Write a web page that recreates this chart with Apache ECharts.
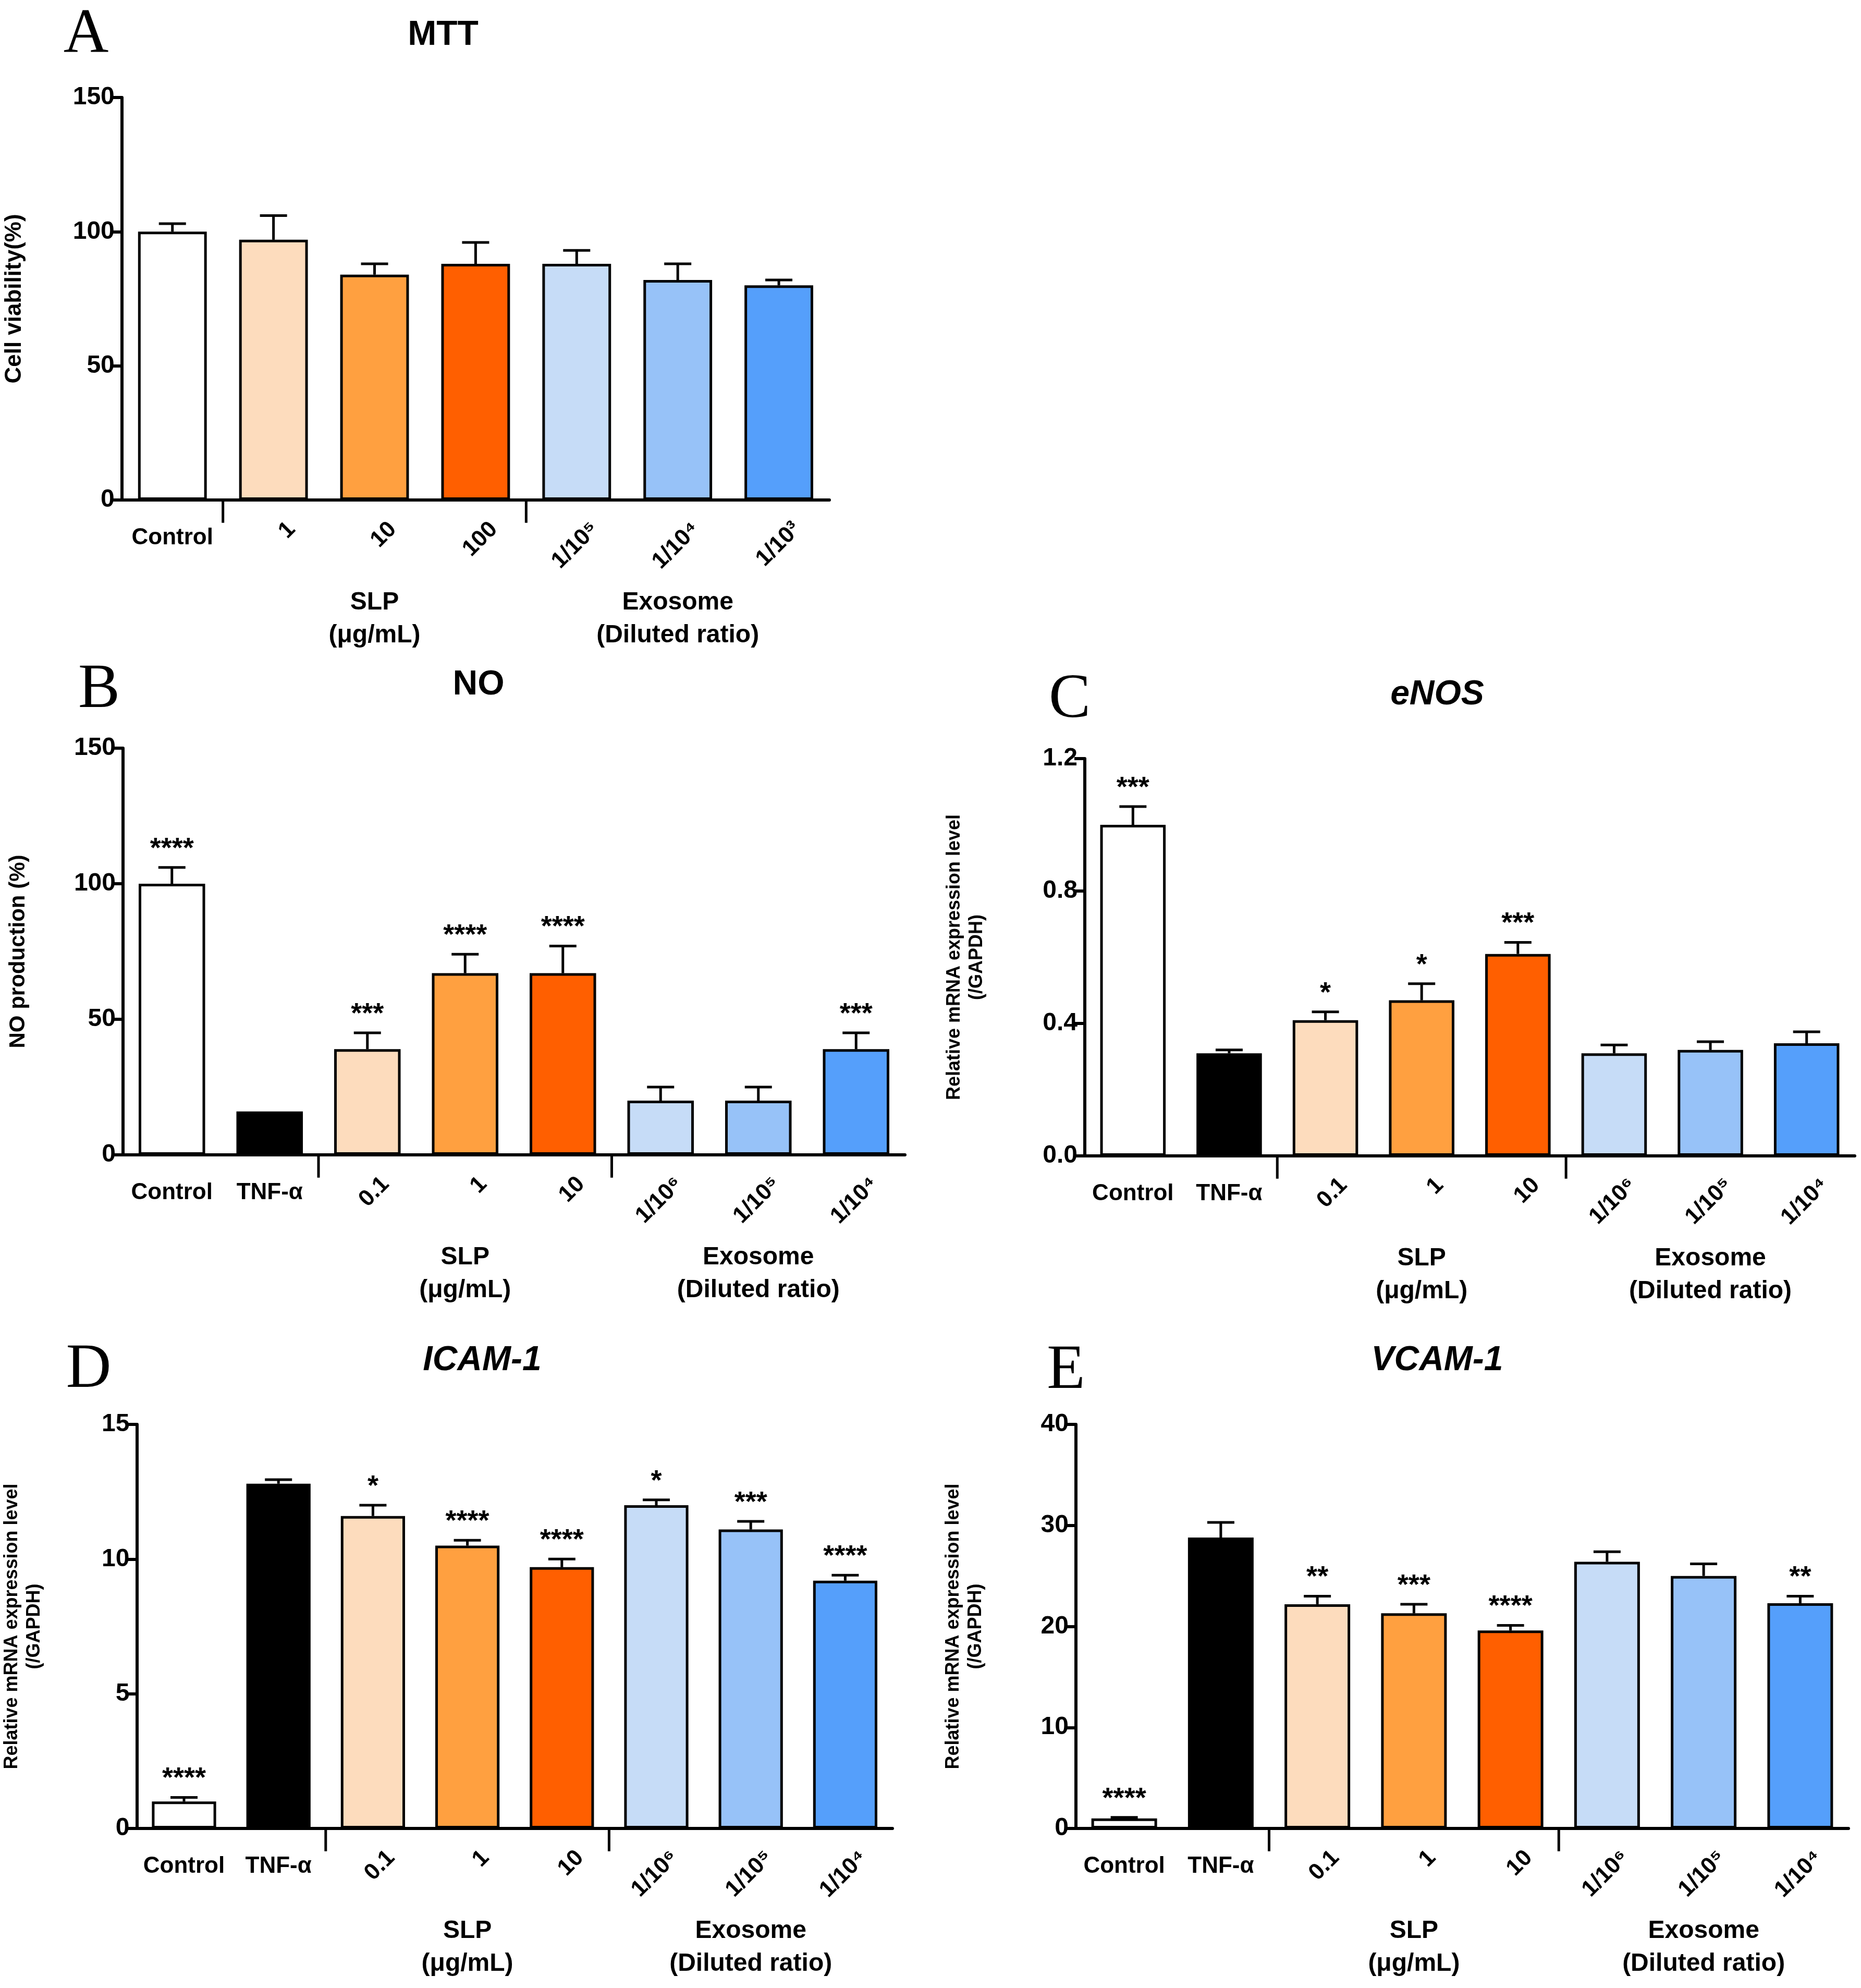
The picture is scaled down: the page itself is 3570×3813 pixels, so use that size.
<!DOCTYPE html>
<html><head><meta charset="utf-8">
<script src="https://cdn.jsdelivr.net/npm/echarts@6/dist/echarts.min.js"></script>
<style>html,body{margin:0;padding:0;background:#fff}#c{width:3570px;height:3813px}</style>
</head><body><div id="c"></div>
<script>
// ---- data ----
const catsA = ['Control','1','10','100','1/10⁵','1/10⁴','1/10³'];
const valsA = [100, 97, 84, 88, 88, 82, 80];
const errA  = [3, 9, 4, 8, 5, 6, 2];
const starA = ['','','','','','',''];

const catsB = ['Control','TNF-α','0.1','1','10','1/10⁶','1/10⁵','1/10⁴'];
const valsB = [100, 16, 39, 67, 67, 20, 20, 39];
const errB  = [6, 0, 6, 7, 10, 5, 5, 6];
const starB = ['****','','***','****','****','','','***'];

const catsC = catsB;
const valsC = [1.0, 0.31, 0.41, 0.47, 0.61, 0.31, 0.32, 0.34];
const errC  = [0.055, 0.01, 0.025, 0.05, 0.035, 0.025, 0.025, 0.035];
const starC = ['***','','*','*','***','','',''];

const catsD = catsB;
const valsD = [1.0, 12.8, 11.6, 10.5, 9.7, 12.0, 11.1, 9.2];
const errD  = [0.15, 0.15, 0.4, 0.2, 0.3, 0.2, 0.3, 0.2];
const starD = ['****','','*','****','****','*','***','****'];

const catsE = catsB;
const valsE = [1.0, 28.8, 22.2, 21.3, 19.6, 26.4, 25.0, 22.3];
const errE  = [0.1, 1.5, 0.8, 0.9, 0.5, 1.0, 1.2, 0.7];
const starE = ['****','','**','***','****','','','**'];

const colors7 = ['#ffffff','#fddcbd','#ffa040','#ff5f00','#c6dcf7','#97c2f8','#559ffb'];
const colors8 = ['#ffffff','#000000','#fddcbd','#ffa040','#ff5f00','#c6dcf7','#97c2f8','#559ffb'];

const S = 3570/1470;
const FONT = 'Liberation Sans';
const panels = [
  {cats:catsA, vals:valsA, err:errA, star:starA, colors:colors7, grid:{left:233,top:187,width:1358,height:772}, max:150, interval:50, dec:0, name:'Cell viability(%)', nameGap:180, nameSize:44, groups:[[1,2,3],[4,5,6]], title:'MTT', titleX:850, titleY:68, italic:false, letter:'A', lx:165, ly:68},
  {cats:catsB, vals:valsB, err:errB, star:starB, colors:colors8, grid:{left:236,top:1435,width:1500,height:780}, max:150, interval:50, dec:0, name:'NO production (%)', nameGap:175, nameSize:42, groups:[[2,3,4],[5,6,7]], title:'NO', titleX:918, titleY:1314, italic:false, letter:'B', lx:190, ly:1324},
  {cats:catsC, vals:valsC, err:errC, star:starC, colors:colors8, grid:{left:2081,top:1455,width:1477,height:762}, max:1.2, interval:0.4, dec:1, name:'Relative mRNA expression level\n(/GAPDH)', nameGap:185, nameSize:36, groups:[[2,3,4],[5,6,7]], title:'eNOS', titleX:2757, titleY:1333, italic:true, letter:'C', lx:2052, ly:1343},
  {cats:catsD, vals:valsD, err:errD, star:starD, colors:colors8, grid:{left:231,top:2732,width:1481,height:775}, max:15, interval:5, dec:0, name:'Relative mRNA expression level\n(/GAPDH)', nameGap:175, nameSize:36, groups:[[2,3,4],[5,6,7]], title:'ICAM-1', titleX:925, titleY:2610, italic:true, letter:'D', lx:170, ly:2628},
  {cats:catsE, vals:valsE, err:errE, star:starE, colors:colors8, grid:{left:2064,top:2732,width:1482,height:775}, max:40, interval:10, dec:0, name:'Relative mRNA expression level\n(/GAPDH)', nameGap:170, nameSize:36, groups:[[2,3,4],[5,6,7]], title:'VCAM-1', titleX:2757, titleY:2610, italic:true, letter:'E', lx:2045, ly:2630}
];
const groupNames = [['SLP','(μg/mL)'],['Exosome','(Diluted ratio)']];

const grid=[], xAxis=[], yAxis=[], series=[], graphic=[];
panels.forEach((p,k)=>{
  grid.push(p.grid);
  xAxis.push({type:'category', gridIndex:k, data:p.cats, axisLine:{lineStyle:{color:'#000',width:6}}, axisTick:{show:false}, axisLabel:{show:false}});
  yAxis.push({type:'value', gridIndex:k, min:0, max:p.max, interval:p.interval,
    axisLine:{show:true, lineStyle:{color:'#000',width:6}}, axisTick:{show:true,length:20,lineStyle:{width:6,color:'#000'}},
    splitLine:{show:false}, axisLabel:{fontFamily:FONT,fontWeight:'bold',fontSize:48,color:'#000',margin:14, formatter:v=>v.toFixed(p.dec)},
    name:p.name, nameLocation:'middle', nameGap:p.nameGap, nameTextStyle:{fontFamily:FONT,fontWeight:'bold',fontSize:p.nameSize,color:'#000',lineHeight:p.nameSize*1.2}});
  series.push({type:'bar', xAxisIndex:k, yAxisIndex:k, barCategoryGap:'32%',
    data:p.vals.map((v,i)=>({value:v, itemStyle:{color:p.colors[i], borderColor:'#000', borderWidth:5}})), z:2});
  // error bars + stars
  series.push({type:'custom', xAxisIndex:k, yAxisIndex:k, z:3,
    data:p.vals.map((v,i)=>[i,v,p.err[i]]),
    renderItem:(params,api)=>{
      const i=api.value(0), v=api.value(1), e=api.value(2);
      const a=api.coord([i,v]), b=api.coord([i,v+e]);
      const cap=26;
      const ch=[];
      if(e>0){
        ch.push({type:'line',shape:{x1:a[0],y1:a[1],x2:b[0],y2:b[1]},style:{stroke:'#000',lineWidth:5}});
        ch.push({type:'line',shape:{x1:b[0]-cap,y1:b[1],x2:b[0]+cap,y2:b[1]},style:{stroke:'#000',lineWidth:5}});
      }
      const st=p.star[i];
      if(st) ch.push({type:'text',x:b[0],y:b[1]-8,style:{text:st,fontFamily:FONT,fontWeight:'bold',fontSize:54,fill:'#000',align:'center',verticalAlign:'bottom'}});
      return {type:'group',children:ch};
    }});
  // x labels
  series.push({type:'custom', xAxisIndex:k, yAxisIndex:k, z:3, silent:true,
    data:p.cats.map((c,i)=>[i,0]),
    renderItem:(params,api)=>{
      const i=api.value(0); const c=api.coord([i,0]); const name=p.cats[i];
      const ch=[];
      if(name==='Control'||name==='TNF-α'){
        ch.push({type:'text',x:c[0],y:c[1]+30*S,style:{text:name,fontFamily:FONT,fontWeight:'bold',fontSize:44,fill:'#000',align:'center',verticalAlign:'middle'}});
      } else {
        ch.push({type:'text',x:c[0]+8*S,y:c[1]+14*S,rotation:Math.PI/4,style:{text:name,fontFamily:FONT,fontWeight:'bold',fontSize:44,fill:'#000',align:'right',verticalAlign:'top'}});
      }
      p.groups.forEach((g,gi)=>{
        if(i===g[0]){
          const prev=api.coord([i-1,0]);
          const sx=(prev[0]+c[0])/2;
          ch.push({type:'line',shape:{x1:sx,y1:c[1],x2:sx,y2:c[1]+18*S},style:{stroke:'#000',lineWidth:5}});
        }
        if(i===g[1]){
          ch.push({type:'text',x:c[0],y:c[1]+81*S,style:{text:groupNames[gi][0],fontFamily:FONT,fontWeight:'bold',fontSize:48,fill:'#000',align:'center',verticalAlign:'middle'}});
          ch.push({type:'text',x:c[0],y:c[1]+107*S,style:{text:groupNames[gi][1],fontFamily:FONT,fontWeight:'bold',fontSize:48,fill:'#000',align:'center',verticalAlign:'middle'}});
        }
      });
      return {type:'group',children:ch};
    }});
  graphic.push({type:'text',x:p.titleX,y:p.titleY,style:{text:p.title,fontFamily:FONT,fontWeight:'bold',fontStyle:p.italic?'italic':'normal',fontSize:66,fill:'#000',align:'center',verticalAlign:'middle'}});
  graphic.push({type:'text',x:p.lx,y:p.ly,style:{text:p.letter,fontFamily:'Liberation Serif',fontSize:120,fill:'#000',align:'center',verticalAlign:'middle'}});
});

const chart = echarts.init(document.getElementById('c'));
chart.setOption({animation:false, backgroundColor:'#fff', grid, xAxis, yAxis, series, graphic});
</script></body></html>
